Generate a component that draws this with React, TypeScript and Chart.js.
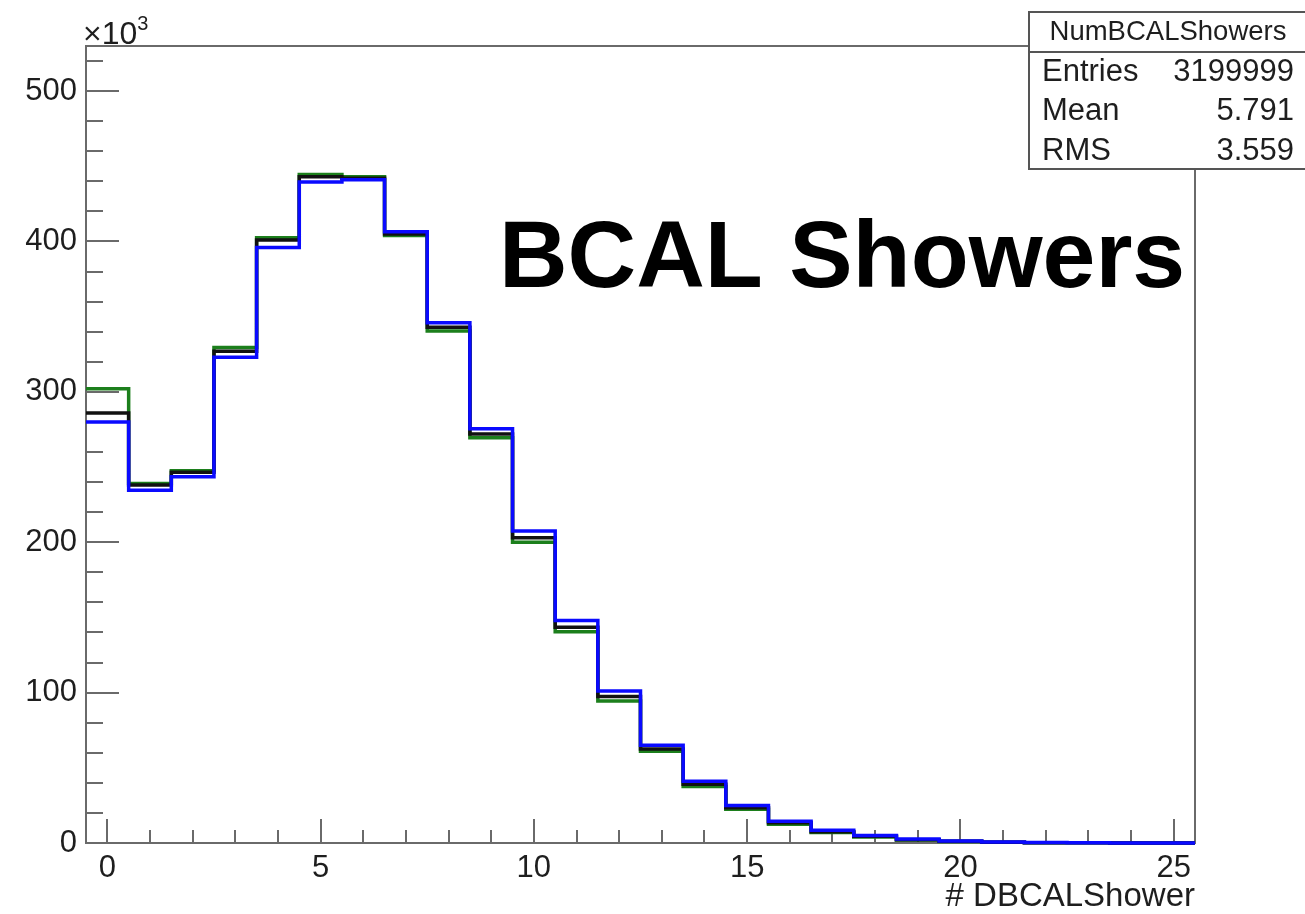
import React, { useEffect, useRef } from 'react';
import { Chart, registerables } from 'chart.js';

Chart.register(...registerables);

// ---- data (values in units of 10^3 entries) ----
const binCenters = [0, 1, 2, 3, 4, 5, 6, 7, 8, 9, 10, 11, 12, 13, 14, 15, 16, 17, 18, 19, 20, 21, 22, 23, 24, 25];
const greenCounts = [302, 239, 247.5, 329.5, 402.5, 444.5, 443, 404, 340.5, 269.5, 200, 140.5, 94.5, 61, 37.5, 22.5, 12.5, 7, 4, 2, 1, 0.5, 0.2, 0.1, 0, 0];
const blackCounts = [286, 238, 246.5, 327, 401, 443, 442, 405, 343, 272, 203, 143.5, 97.5, 62.5, 39, 23.5, 13.5, 7.5, 4.5, 2.2, 1.1, 0.5, 0.2, 0.1, 0, 0];
const blueCounts = [280, 234.5, 243.5, 323, 396, 439.5, 441, 406.5, 346, 275.5, 207.5, 148, 101, 65, 41, 25, 14.5, 8.5, 5, 2.6, 1.3, 0.6, 0.3, 0.1, 0, 0];

const yTickValues = [0, 100, 200, 300, 400, 500];
const xTickValues = [0, 5, 10, 15, 20, 25];
const xAxisTitle = '# DBCALShower';
const overlayTitle = 'BCAL Showers';
const yMultiplierBase = '\u00d710';
const yMultiplierExp = '3';
const statsTitle = 'NumBCALShowers';
const statsLabels = ['Entries', 'Mean', 'RMS'];
const statsValues = ['3199999', '5.791', '3.559'];

const FONT = '"Liberation Sans", Arial, Helvetica, sans-serif';
const AXIS_COLOR = '#6a6a6a';
const TEXT_COLOR = '#1e1e1e';

function toSteps(values: number[]) {
  const pts = values.map((v, i) => ({ x: binCenters[i] - 0.5, y: v }));
  pts.push({ x: binCenters[binCenters.length - 1] + 0.5, y: values[values.length - 1] });
  return pts;
}

const rootAxesPlugin = {
  id: 'rootAxes',
  beforeDatasetsDraw(chart: any) {
    const { ctx, chartArea: a, scales } = chart;
    const xs = scales.x;
    const ys = scales.y;
    ctx.save();
    ctx.strokeStyle = AXIS_COLOR;
    ctx.lineWidth = 2;
    ctx.beginPath();
    ctx.moveTo(a.left, a.bottom);
    ctx.lineTo(a.left, a.top);
    ctx.lineTo(a.right, a.top);
    ctx.lineTo(a.right, a.bottom);
    ctx.closePath();
    ctx.stroke();
    // y ticks (inward)
    ctx.beginPath();
    for (let v = 0; v <= ys.max + 1e-9; v += 20) {
      const py = Math.round(ys.getPixelForValue(v));
      const len = v % 100 === 0 ? 33 : 17;
      ctx.moveTo(a.left, py);
      ctx.lineTo(a.left + len, py);
    }
    // x ticks (inward)
    for (let v = 0; v <= xs.max + 1e-9; v += 1) {
      const px = Math.round(xs.getPixelForValue(v));
      const len = v % 5 === 0 ? 24 : 13;
      ctx.moveTo(px, a.bottom);
      ctx.lineTo(px, a.bottom - len);
    }
    ctx.stroke();
    ctx.restore();
  },
};

const overlayPlugin = {
  id: 'rootOverlay',
  afterDraw(chart: any) {
    const { ctx, chartArea: a } = chart;
    ctx.save();
    // x10^3
    ctx.fillStyle = TEXT_COLOR;
    ctx.textBaseline = 'alphabetic';
    ctx.textAlign = 'left';
    ctx.font = `32px ${FONT}`;
    ctx.fillText(yMultiplierBase, a.left - 3, a.top - 2);
    const w = ctx.measureText(yMultiplierBase).width;
    ctx.font = `20px ${FONT}`;
    ctx.fillText(yMultiplierExp, a.left - 3 + w, a.top - 16);

    // big title
    ctx.fillStyle = '#000';
    ctx.font = `bold 95px ${FONT}`;
    ctx.fillText(overlayTitle, 499, 287);

    // stats box
    const bx = 1029, by = 12, bw = 300, bh = 157, sep = 52;
    ctx.fillStyle = '#fff';
    ctx.fillRect(bx, by, bw, bh);
    ctx.strokeStyle = '#555';
    ctx.lineWidth = 2;
    ctx.strokeRect(bx, by, bw, bh);
    ctx.beginPath();
    ctx.moveTo(bx, sep);
    ctx.lineTo(bx + bw, sep);
    ctx.stroke();
    ctx.fillStyle = TEXT_COLOR;
    ctx.textBaseline = 'middle';
    ctx.textAlign = 'center';
    ctx.font = `27.5px ${FONT}`;
    ctx.fillText(statsTitle, 1168, 32);
    ctx.font = `31px ${FONT}`;
    const rowY = [72, 111, 151];
    statsLabels.forEach((lab, i) => {
      ctx.textAlign = 'left';
      ctx.fillText(lab, 1042, rowY[i]);
      ctx.textAlign = 'right';
      ctx.fillText(statsValues[i], 1294, rowY[i]);
    });
    ctx.restore();
  },
};

export default function App() {
  const canvasRef = useRef<HTMLCanvasElement | null>(null);

  useEffect(() => {
    const canvas = canvasRef.current;
    if (!canvas) return;
    const chart = new Chart(canvas, {
      type: 'line',
      data: {
        datasets: [
          {
            label: 'blue',
            data: toSteps(blueCounts),
            borderColor: '#0a0aff',
            borderWidth: 3.5,
            stepped: 'before',
            pointRadius: 0,
            fill: false,
            clip: false,
            order: 0,
          },
          {
            label: 'black',
            data: toSteps(blackCounts),
            borderColor: '#111111',
            borderWidth: 3.5,
            stepped: 'before',
            pointRadius: 0,
            fill: false,
            clip: false,
            order: 1,
          },
          {
            label: 'green',
            data: toSteps(greenCounts),
            borderColor: '#1c7f1c',
            borderWidth: 3.5,
            stepped: 'before',
            pointRadius: 0,
            fill: false,
            clip: false,
            order: 2,
          },
        ],
      },
      options: {
        animation: false,
        responsive: false,
        devicePixelRatio: 1,
        layout: { padding: { left: 0, top: 46, right: 110, bottom: 0 } },
        plugins: { legend: { display: false }, tooltip: { enabled: false }, title: { display: false } },
        scales: {
          x: {
            type: 'linear',
            min: -0.5,
            max: 25.5,
            grid: { display: false, drawTicks: false },
            border: { display: false },
            afterBuildTicks: (scale: any) => {
              scale.ticks = xTickValues.map((v) => ({ value: v }));
            },
            afterFit: (scale: any) => {
              scale.height = 71;
            },
            ticks: {
              padding: 7,
              color: TEXT_COLOR,
              font: { family: FONT, size: 31 },
              maxRotation: 0,
              autoSkip: false,
              callback: (v: any) => String(v),
            },
            title: {
              display: true,
              text: xAxisTitle,
              align: 'end',
              color: TEXT_COLOR,
              font: { family: FONT, size: 33 },
              padding: { top: 0, bottom: -3 },
            },
          },
          y: {
            type: 'linear',
            min: 0,
            max: 530,
            grid: { display: false, drawTicks: false },
            border: { display: false },
            afterBuildTicks: (scale: any) => {
              scale.ticks = yTickValues.map((v) => ({ value: v }));
            },
            afterFit: (scale: any) => {
              scale.width = 86;
            },
            ticks: {
              padding: 9,
              color: TEXT_COLOR,
              font: { family: FONT, size: 31 },
              autoSkip: false,
              callback: (v: any) => String(v),
            },
          },
        },
      },
      plugins: [rootAxesPlugin, overlayPlugin],
    });
    return () => chart.destroy();
  }, []);

  return (
    <div style={{ position: 'absolute', left: 0, top: 0, width: 1305, height: 914, background: '#fff' }}>
      <canvas ref={canvasRef} width={1305} height={914} style={{ display: 'block' }} />
    </div>
  );
}
